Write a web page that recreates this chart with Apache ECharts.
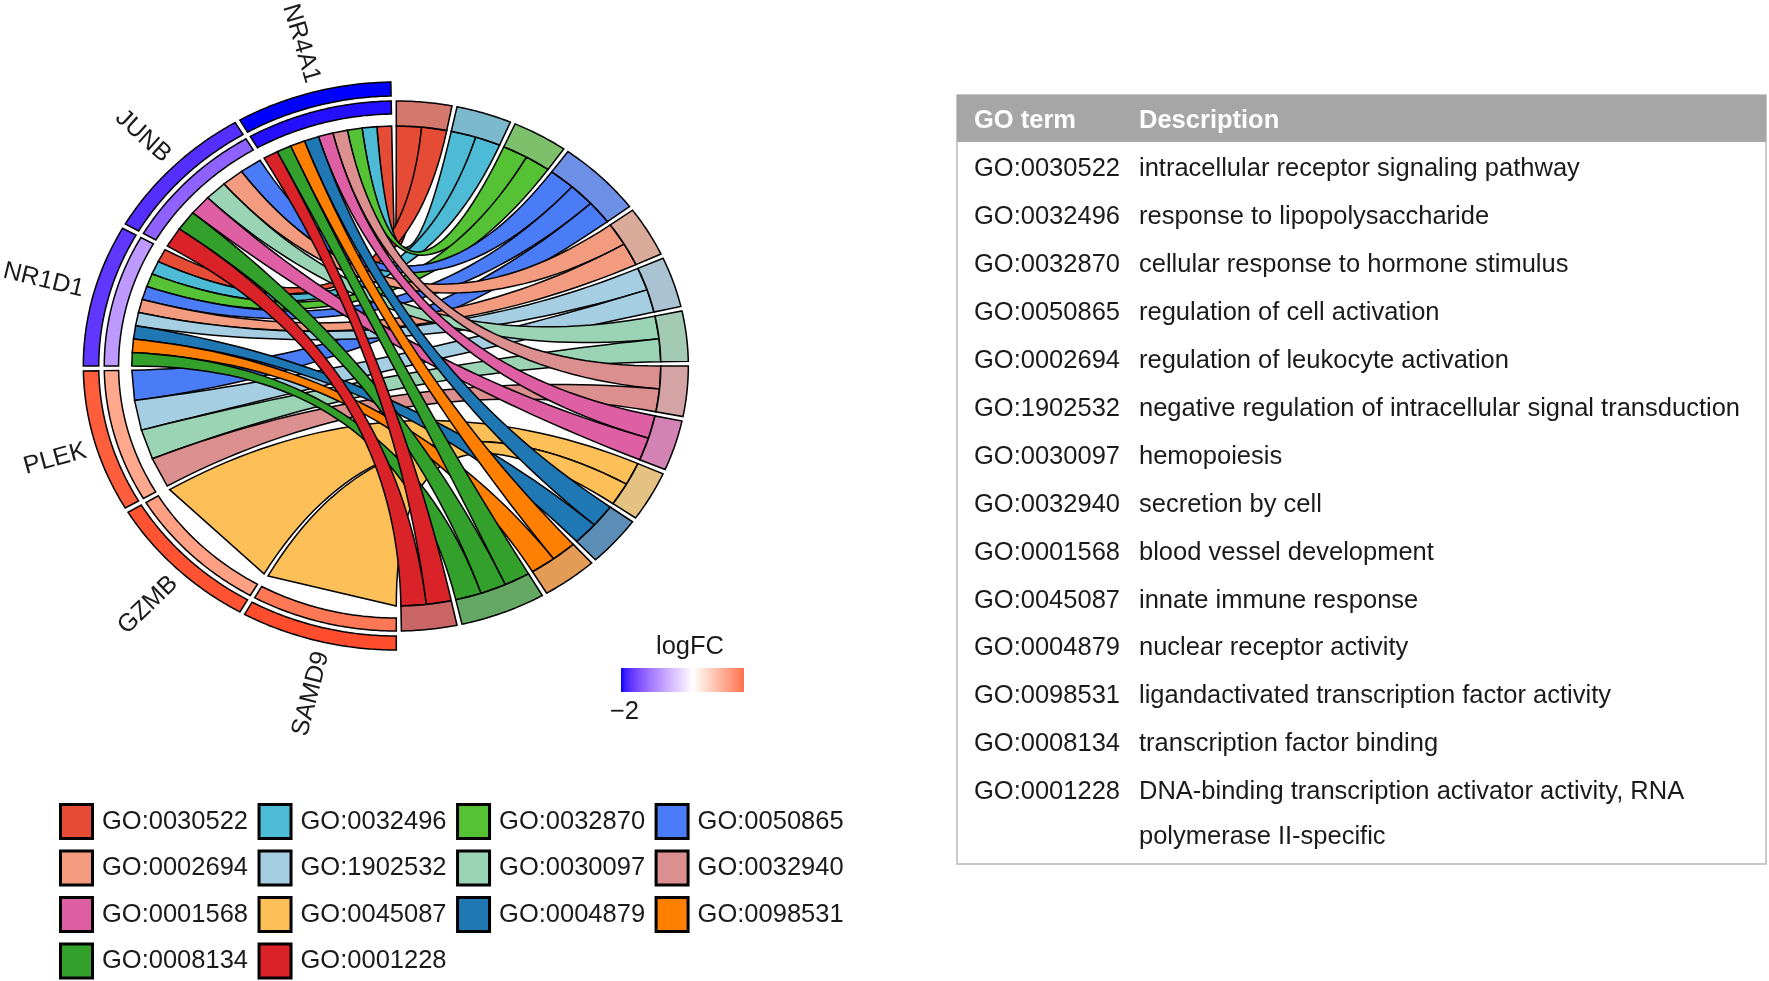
<!DOCTYPE html>
<html>
<head>
<meta charset="utf-8">
<title>GO chord</title>
<script src="https://cdn.jsdelivr.net/npm/echarts@6/dist/echarts.min.js"></script>
<style>
    html, body { margin: 0; padding: 0; background: #fff; }
    #chart { width: 1769px; height: 981px; }
</style>
</head>
<body>
<div id="chart"></div>
<script>
// data
const genes = ["NR4A1", "JUNB", "NR1D1", "PLEK", "GZMB", "SAMD9"];
const logFCOuter = [-2.1, -1.86, -1.8, 1.66, 1.74, 1.79];
const logFCInner = [-2.05, -1.43, -0.92, 0.95, 1.03, 1.43];
const terms = [
    "GO:0030522", "GO:0032496", "GO:0032870", "GO:0050865", "GO:0002694", "GO:1902532", "GO:0030097",
    "GO:0032940", "GO:0001568", "GO:0045087", "GO:0004879", "GO:0098531", "GO:0008134", "GO:0001228",
];
const descriptions = [
    "intracellular receptor signaling pathway",
    "response to lipopolysaccharide",
    "cellular response to hormone stimulus",
    "regulation of cell activation",
    "regulation of leukocyte activation",
    "negative regulation of intracellular signal transduction",
    "hemopoiesis",
    "secretion by cell",
    "blood vessel development",
    "innate immune response",
    "nuclear receptor activity",
    "ligandactivated transcription factor activity",
    "transcription factor binding",
    "DNA-binding transcription activator activity, RNA\npolymerase II-specific",
];
const termGenes = [
    ["NR4A1", "NR1D1"],
    ["NR4A1", "NR1D1"],
    ["NR4A1", "NR1D1"],
    ["JUNB", "NR1D1", "PLEK"],
    ["JUNB", "NR1D1"],
    ["NR1D1", "PLEK"],
    ["JUNB", "PLEK"],
    ["NR4A1", "PLEK"],
    ["NR4A1", "JUNB"],
    ["GZMB", "SAMD9"],
    ["NR4A1", "NR1D1"],
    ["NR4A1", "NR1D1"],
    ["NR4A1", "JUNB", "NR1D1"],
    ["NR4A1", "JUNB"],
];
const fcTicks = [-2];
const fcBarRange = [-2.1, 1.5];

// styles
const FONT = "Liberation Sans";
const INK = "#1a1a1a";
const termColors = ["#E64B35", "#4DBBD5", "#55C235", "#4A7CF7", "#F39B7F", "#A6CEE3", "#9BD4B4",
    "#DC8F8F", "#DF5FA5", "#FDBF57", "#1F78B4", "#FF7F00", "#33A02C", "#DA2328"];
const blockColors = ["#D4786E", "#7DB9CC", "#7DBF6A", "#6E8FE6", "#D9A99A", "#A9C3D3", "#A3CBB3",
    "#D4A3A3", "#D283B3", "#E3C282", "#5C8DB6", "#E39B55", "#64A864", "#C96565"];
const FC_LOW = "#0000FF", FC_MID = "#FFFFFF", FC_HIGH = "#FF0000", FC_LIMIT = 2.1;

// geometry (radius in axis units, angle in degrees clockwise from top)
const CX = 396.3, CY = 366, KX = 1.102;
const R_CHORD = 240, R_BLOCK = 265, RING_IN = [252, 265], RING_OUT = [270, 284], R_LABEL_END = 294;
const PAD = 0.5, ROT = -0.5;

// ---- Lab colour scale (blue - white - red) ----
function toLab(hex) {
    const n = parseInt(hex.slice(1), 16);
    const [r, g, b] = [(n >> 16) & 255, (n >> 8) & 255, n & 255].map((v) => {
        v /= 255;
        return v <= 0.04045 ? v / 12.92 : Math.pow((v + 0.055) / 1.055, 2.4);
    });
    const X = (0.4124 * r + 0.3576 * g + 0.1805 * b) / 0.95047;
    const Y = 0.2126 * r + 0.7152 * g + 0.0722 * b;
    const Z = (0.0193 * r + 0.1192 * g + 0.9505 * b) / 1.08883;
    const f = (t) => (t > 0.008856 ? Math.cbrt(t) : 7.787 * t + 16 / 116);
    return [116 * f(Y) - 16, 500 * (f(X) - f(Y)), 200 * (f(Y) - f(Z))];
}

function fromLab([L, a, b]) {
    const fy = (L + 16) / 116, fx = fy + a / 500, fz = fy - b / 200;
    const inv = (t) => (t > 0.206893 ? t * t * t : (t - 16 / 116) / 7.787);
    const X = inv(fx) * 0.95047, Y = inv(fy), Z = inv(fz) * 1.08883;
    const lin = [
        3.2406 * X - 1.5372 * Y - 0.4986 * Z,
        -0.9689 * X + 1.8758 * Y + 0.0415 * Z,
        0.0557 * X - 0.204 * Y + 1.057 * Z,
    ];
    const c = lin.map((v) => {
        v = v <= 0.0031308 ? 12.92 * v : 1.055 * Math.pow(v, 1 / 2.4) - 0.055;
        return Math.round(Math.min(1, Math.max(0, v)) * 255);
    });
    return `rgb(${c[0]},${c[1]},${c[2]})`;
}

const labLow = toLab(FC_LOW), labMid = toLab(FC_MID), labHigh = toLab(FC_HIGH);

function fcColor(v) {
    const t = Math.max(-1, Math.min(1, v / FC_LIMIT));
    const end = t < 0 ? labLow : labHigh;
    const s = Math.abs(t);
    return fromLab(labMid.map((m, i) => m + (end[i] - m) * s));
}

// ---- layout ----
const unit = 180 / termGenes.flat().length;
const geneSpan = 180 / genes.length;
const geneTerms = genes.map((g) => terms.map((t, j) => j).filter((j) => termGenes[j].includes(g)));
const termRange = [];
const linkAt = genes.map(() => ({}));
let cum = 0;
termGenes.forEach((list, j) => {
    const t0 = cum * unit + PAD, t1 = (cum + list.length) * unit - PAD;
    const tw = (t1 - t0) / list.length;
    termRange.push([t0, t1]);
    list.forEach((g, k) => {
        const gi = genes.indexOf(g);
        const hi = 360 - gi * geneSpan - PAD, lo = 360 - (gi + 1) * geneSpan + PAD;
        const gw = (hi - lo) / geneTerms[gi].length;
        const slot = geneTerms[gi].indexOf(j);
        linkAt[gi][j] = { g0: hi - (slot + 1) * gw, g1: hi - slot * gw, t0: t0 + k * tw, t1: t0 + (k + 1) * tw };
    });
    cum += list.length;
});

function pt(r, deg) {
    const a = ((deg + ROT) * Math.PI) / 180;
    return [r * Math.sin(a), r * Math.cos(a)];
}

function band(api, r0, r1, d0, d1) {
    const steps = Math.max(4, Math.ceil((d1 - d0) / 0.5));
    const pts = [];
    for (let i = 0; i <= steps; i++) pts.push(api.coord(pt(r1, d0 + ((d1 - d0) * i) / steps)));
    for (let i = steps; i >= 0; i--) pts.push(api.coord(pt(r0, d0 + ((d1 - d0) * i) / steps)));
    return pts;
}

// quadratic bezier with its control point in the centre
function curve(a, b, out) {
    for (let i = 0; i <= 40; i++) {
        const s = i / 40;
        out.push([(1 - s) * (1 - s) * a[0] + s * s * b[0], (1 - s) * (1 - s) * a[1] + s * s * b[1]]);
    }
}

function renderChord(params, api) {
    const gi = api.value(0), j = api.value(1);
    const l = linkAt[gi][j];
    const pts = [];
    curve(pt(R_CHORD, l.g1), pt(R_CHORD, l.t0), pts);
    curve(pt(R_CHORD, l.t1), pt(R_CHORD, l.g0), pts);
    return {
        type: "polygon",
        shape: { points: pts.map((p) => api.coord(p)) },
        style: { fill: termColors[j], stroke: "#000", lineWidth: 1.5 },
    };
}

function renderBlock(params, api) {
    const j = api.value(0);
    return {
        type: "polygon",
        shape: { points: band(api, R_CHORD, R_BLOCK, termRange[j][0], termRange[j][1]) },
        style: { fill: blockColors[j], stroke: "#000", lineWidth: 1.5 },
    };
}

function renderGene(params, api) {
    const i = api.value(0);
    const lo = 360 - (i + 1) * geneSpan + PAD, hi = 360 - i * geneSpan - PAD;
    const mid = 360 - (i + 0.5) * geneSpan;
    // labels on the lower quarter sit a little lower, as in the figure
    const at = mid < 270 ? mid - 1.2 : mid + 0.5;
    // label ends just outside the rings and reads towards the centre
    const pos = api.coord(pt(R_LABEL_END, at));
    const o = api.coord([0, 0]);
    const rot = -Math.atan2(o[1] - pos[1], o[0] - pos[0]);
    return {
        type: "group",
        children: [
            {
                type: "polygon",
                shape: { points: band(api, RING_OUT[0], RING_OUT[1], lo, hi) },
                style: { fill: fcColor(api.value(1)), stroke: "#000", lineWidth: 1.5 },
            },
            {
                type: "polygon",
                shape: { points: band(api, RING_IN[0], RING_IN[1], lo, hi) },
                style: { fill: fcColor(api.value(2)), stroke: "#000", lineWidth: 1.5 },
            },
            {
                type: "text",
                x: pos[0],
                y: pos[1],
                rotation: rot,
                style: {
                    text: genes[i], fill: INK, fontSize: 25, fontFamily: FONT,
                    align: "right", verticalAlign: "middle",
                },
            },
        ],
    };
}

const chordSeries = terms.map((name, j) => ({
    name,
    type: "custom",
    coordinateSystem: "cartesian2d",
    renderItem: renderChord,
    itemStyle: { color: termColors[j] },
    data: termGenes[j].map((g) => [genes.indexOf(g), j]),
}));

// ---- table and colour bar ----
const TABLE = { x: 957, y: 95, w: 809, h: 769, head: 47, row: 47.9, first: 169.4, col1: 974, col2: 1139 };
const BAR = { x: 621, y: 668, w: 123, h: 24 };

const tableGraphic = [
    { type: "rect", shape: { x: TABLE.x, y: TABLE.y, width: TABLE.w, height: TABLE.h },
        style: { fill: "#fff", stroke: "#B8B8B8", lineWidth: 1.5 } },
    { type: "rect", shape: { x: TABLE.x, y: TABLE.y, width: TABLE.w, height: TABLE.head },
        style: { fill: "#A6A6A6" } },
    { type: "text", x: TABLE.col1, y: TABLE.y + TABLE.head / 2 + 2,
        style: { text: "GO term", fill: "#fff", fontSize: 25.5, fontWeight: "bold", fontFamily: FONT, verticalAlign: "middle" } },
    { type: "text", x: TABLE.col2, y: TABLE.y + TABLE.head / 2 + 2,
        style: { text: "Description", fill: "#fff", fontSize: 25.5, fontWeight: "bold", fontFamily: FONT, verticalAlign: "middle" } },
];
terms.forEach((t, j) => {
    const y = TABLE.first + j * TABLE.row;
    tableGraphic.push({ type: "text", x: TABLE.col1, y,
        style: { text: t, fill: INK, fontSize: 25.5, fontFamily: FONT, verticalAlign: "middle" } });
    tableGraphic.push({ type: "text", x: TABLE.col2, y: y - 22.6,
        style: { text: descriptions[j], fill: INK, fontSize: 25.5, fontFamily: FONT, verticalAlign: "top", lineHeight: 45.2 } });
});

const stops = [];
for (let i = 0; i <= 40; i++) {
    const v = fcBarRange[0] + ((fcBarRange[1] - fcBarRange[0]) * i) / 40;
    stops.push({ offset: i / 40, color: fcColor(v) });
}
const fcX = (v) => BAR.x + ((v - fcBarRange[0]) / (fcBarRange[1] - fcBarRange[0])) * BAR.w;
const barGraphic = [
    { type: "text", x: 690, y: 647,
        style: { text: "logFC", fill: INK, fontSize: 25.5, fontFamily: FONT, align: "center", verticalAlign: "middle" } },
    { type: "rect", shape: { x: BAR.x, y: BAR.y, width: BAR.w, height: BAR.h },
        style: { fill: new echarts.graphic.LinearGradient(0, 0, 1, 0, stops) } },
    ...fcTicks.map((v) => ({
        type: "text", x: fcX(v), y: 712,
        style: { text: String(v).replace("-", "\u2212"), fill: INK, fontSize: 25.5, fontFamily: FONT, align: "center", verticalAlign: "middle" },
    })),
];

const chart = echarts.init(document.getElementById("chart"));
chart.setOption({
    animation: false,
    backgroundColor: "#fff",
    textStyle: { fontFamily: FONT },
    grid: { left: CX - 300 * KX, top: CY - 300, width: 600 * KX, height: 600 },
    xAxis: { type: "value", min: -300, max: 300, show: false },
    yAxis: { type: "value", min: -300, max: 300, show: false },
    legend: {
        data: terms,
        left: 59,
        top: 803,
        width: 800,
        padding: 0,
        itemGap: 9.5,
        itemWidth: 32,
        itemHeight: 34,
        icon: "rect",
        selectedMode: false,
        itemStyle: { borderColor: "#000", borderWidth: 3 },
        textStyle: { fontSize: 25.5, color: INK, fontFamily: FONT, padding: [0, 0, 0, 4.5] },
    },
    graphic: [...tableGraphic, ...barGraphic],
    series: [
        ...chordSeries,
        {
            name: "terms",
            type: "custom",
            coordinateSystem: "cartesian2d",
            renderItem: renderBlock,
            data: terms.map((t, j) => [j, 0]),
        },
        {
            name: "genes",
            type: "custom",
            coordinateSystem: "cartesian2d",
            renderItem: renderGene,
            data: genes.map((g, i) => [i, logFCOuter[i], logFCInner[i]]),
        },
    ],
});
</script>
</body>
</html>
